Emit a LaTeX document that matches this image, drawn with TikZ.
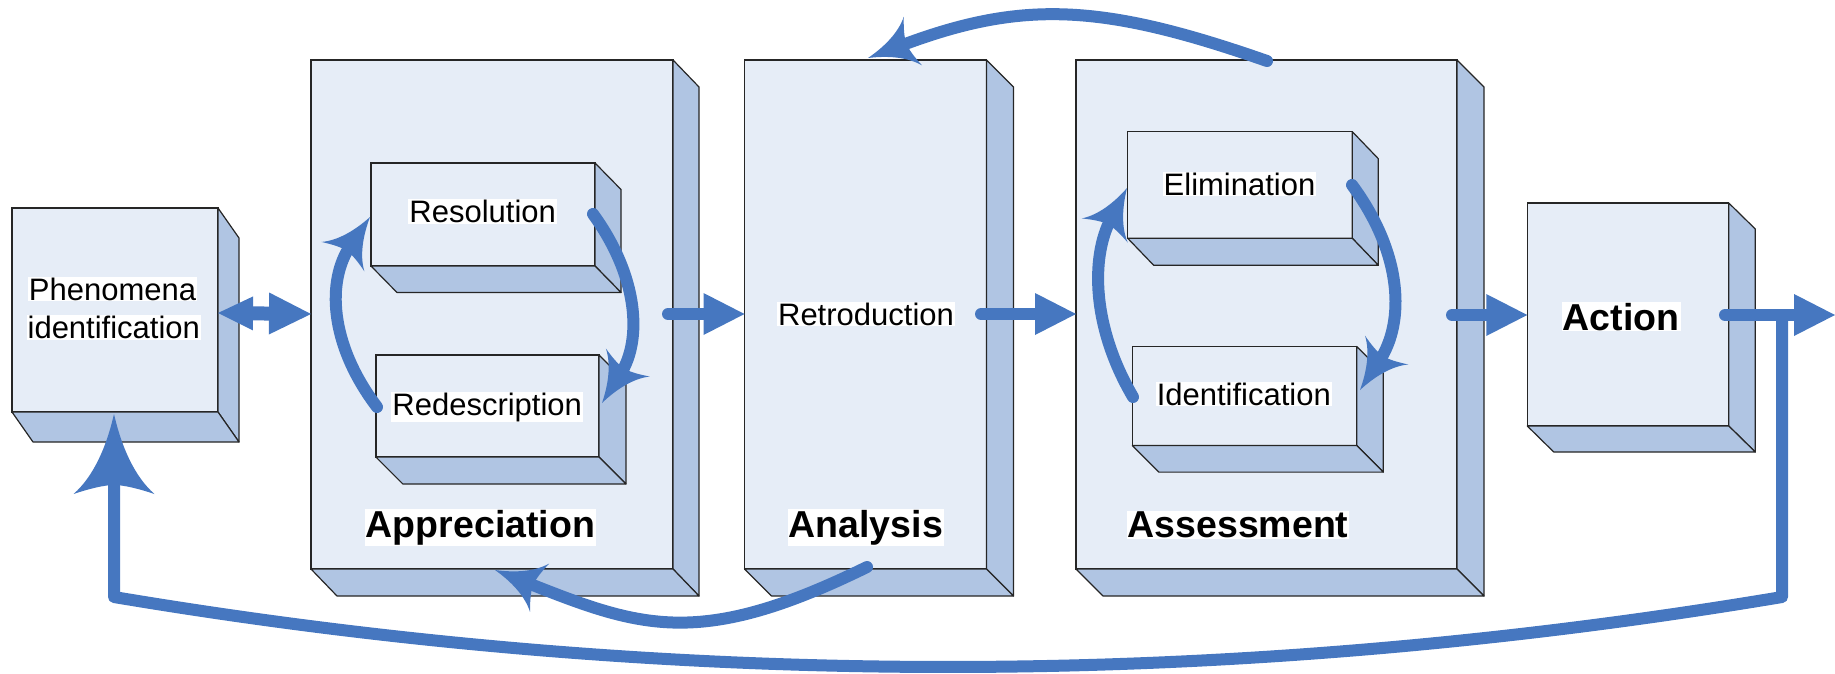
\documentclass[tikz,border=0pt]{standalone}
\usepackage{fontspec}
\setmainfont{Liberation Sans}
\usetikzlibrary{arrows.meta}
\definecolor{frontc}{HTML}{E6EDF7}
\definecolor{sidec}{HTML}{B0C5E3}
\definecolor{arrc}{HTML}{4677C0}
\pgfdeclarearrow{
  name = Swept,
  defaults = {length = 10pt, width = 10pt, inset = 2pt},
  setup code = {
    \pgfarrowssettipend{0pt}
    \pgfarrowssetbackend{-\pgfarrowlength}
    \pgfarrowssetlineend{-0.72\pgfarrowlength}
    \pgfarrowssavethe\pgfarrowlength
    \pgfarrowssavethe\pgfarrowwidth
    \pgfarrowssavethe\pgfarrowinset
  },
  drawing code = {
    \pgfpathmoveto{\pgfqpoint{0pt}{0pt}}
    \pgfpathcurveto{\pgfqpoint{-0.4\pgfarrowlength}{0.09\pgfarrowwidth}}{\pgfqpoint{-0.78\pgfarrowlength}{0.25\pgfarrowwidth}}{\pgfqpoint{-\pgfarrowlength}{0.5\pgfarrowwidth}}
    \pgfpathcurveto{\pgfpointadd{\pgfqpoint{-\pgfarrowlength}{0.3\pgfarrowwidth}}{\pgfqpoint{0.6\pgfarrowinset}{0pt}}}{\pgfpointadd{\pgfqpoint{-\pgfarrowlength}{0.12\pgfarrowwidth}}{\pgfqpoint{\pgfarrowinset}{0pt}}}{\pgfpointadd{\pgfqpoint{-\pgfarrowlength}{0pt}}{\pgfqpoint{\pgfarrowinset}{0pt}}}
    \pgfpathcurveto{\pgfpointadd{\pgfqpoint{-\pgfarrowlength}{-0.12\pgfarrowwidth}}{\pgfqpoint{\pgfarrowinset}{0pt}}}{\pgfpointadd{\pgfqpoint{-\pgfarrowlength}{-0.3\pgfarrowwidth}}{\pgfqpoint{0.6\pgfarrowinset}{0pt}}}{\pgfqpoint{-\pgfarrowlength}{-0.5\pgfarrowwidth}}
    \pgfpathcurveto{\pgfqpoint{-0.78\pgfarrowlength}{-0.25\pgfarrowwidth}}{\pgfqpoint{-0.4\pgfarrowlength}{-0.09\pgfarrowwidth}}{\pgfqpoint{0pt}{0pt}}
    \pgfpathclose
    \pgfusepathqfill
  },
  parameters = {\the\pgfarrowlength,\the\pgfarrowwidth,\the\pgfarrowinset},
}
\tikzset{
  front/.style={rectangle, draw=black!85, line width=1.2pt, fill=frontc, inner sep=0pt, outer sep=0pt},
  sideface/.style={draw=black!85, line width=1.2pt, fill=sidec, line join=round},
  lbl/.style={fill=white, inner xsep=1pt, inner ysep=1pt, anchor=base, font=\fontsize{31}{36}\selectfont},
  blbl/.style={fill=white, inner xsep=1pt, inner ysep=1pt, anchor=base, font=\fontsize{37.5}{44}\selectfont\bfseries},
  flow/.style={draw=arrc, line width=12pt, line cap=round},
  curvetip/.style={-{Swept[length=48pt,width=52pt,inset=7pt]}},
  blocktip/.style={-{Triangle[length=41pt,width=42pt,line width=0pt]}},
}
\newcommand\boxthree[7]{%
  \node[front, minimum width=#4pt, minimum height=#5pt] (#1) at (#2,#3) {};
  \filldraw[sideface] (#1.north east) -- ++(#6,#7) -- ([shift={(#6,#7)}]#1.south east) -- (#1.south east) -- cycle;
  \filldraw[sideface] (#1.south west) -- ++(#6,#7) -- ([shift={(#6,#7)}]#1.south east) -- (#1.south east) -- cycle;
}
\begin{document}
\begin{tikzpicture}[x=1pt,y=-1pt]
\useasboundingbox (0,0) rectangle (1835,674);
% outer boxes
\boxthree{phen}{115}{310}{206}{204}{21}{30}
\boxthree{appr}{492}{314.5}{362}{509}{26}{27}
\boxthree{anal}{865.5}{314.5}{242}{509}{27}{27}
\boxthree{asse}{1266.5}{314.5}{381}{509}{27}{27}
\boxthree{actn}{1628}{314.5}{201.5}{223}{26.5}{26}
% inner boxes
\boxthree{reso}{483}{214.5}{224}{103}{26}{26.5}
\boxthree{rede}{487.4}{406}{223}{102}{27}{27}
\boxthree{elim}{1240}{185}{224.6}{106.6}{26}{27}
\boxthree{iden}{1244.5}{396}{224.4}{99}{26.6}{26.6}
% texts
\node[lbl] (t1) at (112.5,300) {Phenomena};
\node[lbl] (t2) at (113.8,338.3) {identification};
\node[lbl] (t3) at (482.7,222.7) {Resolution};
\node[lbl] (t4) at (487.2,415) {Redescription};
\node[lbl] (t5) at (866,325) {Retroduction};
\node[lbl] (t6) at (1239.5,195) {Elimination};
\node[lbl] (t7) at (1243.8,405) {Identification};
\node[blbl] (t8) at (480.5,537.3) {Appreciation};
\node[blbl] (t9) at (865.8,537.3) {Analysis};
\node[blbl] (t10) at (1238,537.3) {Assessment};
\node[blbl] (t11) at (1621.2,330) {Action};
% connector end points
\coordinate (dS) at (218,313);
\coordinate (dE) at (311,314);
\coordinate (h1S) at (668,314);
\coordinate (h2S) at (981,314);
\coordinate (h3S) at (1452,315);
\coordinate (h4S) at (1725,315);
\coordinate (h4E) at (1835,315);
\coordinate (rsS) at (593,214);
\coordinate (rsE) at (602,403);
\coordinate (rdS) at (377,407);
\coordinate (rdE) at (370,217);
\coordinate (elS) at (1352,185);
\coordinate (elE) at (1360,390);
\coordinate (idS) at (1133,397);
\coordinate (idE) at (1127,188);
\coordinate (topS) at (1267,61);
\coordinate (topE) at (868,58);
\coordinate (botS) at (867,567);
\coordinate (botE) at (495,570);
\coordinate (fbS) at (1782,312);
\coordinate (fbA) at (1782,597);
\coordinate (fbB) at (114,597);
\coordinate (fbE) at (114,414);
% straight block arrows
\draw[draw=arrc, line width=14pt, {Triangle[length=35pt,width=34pt,line width=0pt]}-{Triangle[length=42pt,width=42pt,line width=0pt]}] (dS) -- (dE);
\draw[flow, blocktip] (h1S) -- (anal.west |- h1S);
\draw[flow, blocktip] (h2S) -- (asse.west |- h2S);
\draw[flow, blocktip] (h3S) -- (actn.west |- h3S);
\draw[flow, blocktip] (h4S) -- (h4E);
% cycle arrows
\draw[flow, curvetip] (rsS) .. controls (639,277.3) and (642,340.3) .. (rsE);
\draw[flow, curvetip] (rdS) .. controls (329,343.7) and (326.7,280.3) .. (rdE);
\draw[flow, curvetip] (elS) .. controls (1402.7,253.7) and (1405.3,322) .. (elE);
\draw[flow, curvetip] (idS) .. controls (1092.3,327.7) and (1090.3,258) .. (idE);
% feedback arrows
\draw[flow, curvetip] (topS) .. controls (1101,3) and (1022,0) .. (topE);
\draw[flow, curvetip] (botS) .. controls (700,649) and (641,628) .. (botE);
\draw[flow, line cap=butt, line join=round, -{Swept[length=80pt,width=81pt,inset=9pt]}] (fbS) -- (fbA) .. controls (1226,690.3) and (670,690.3) .. (fbB) -- (fbE);
\end{tikzpicture}
\end{document}
